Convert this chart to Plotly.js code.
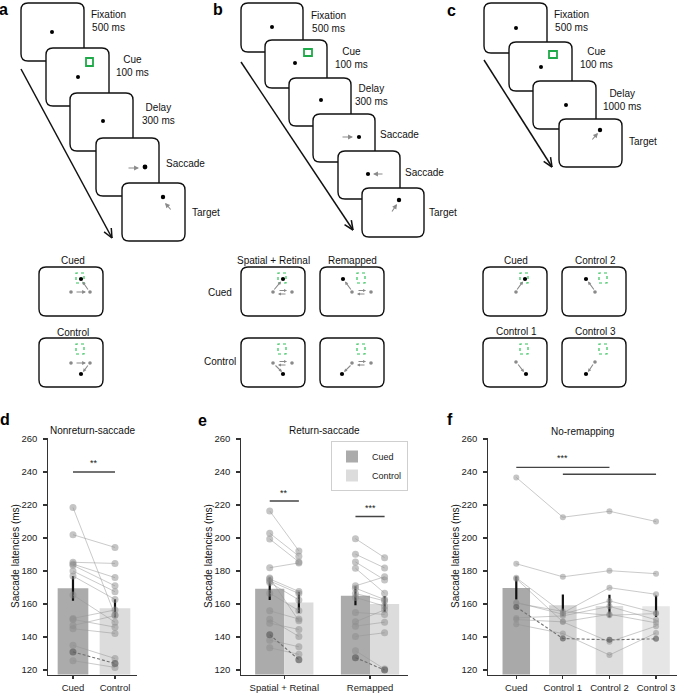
<!DOCTYPE html>
<html><head><meta charset="utf-8">
<script src="https://cdn.plot.ly/plotly-3.0.1.min.js"></script>
<style>html,body{margin:0;padding:0;background:#fff}#chart{width:685px;height:693px}</style>
</head><body><div id="chart"></div>
<script>
const W = 685, H = 693;
const FONT = 'Liberation Sans, Arial, sans-serif';

// ---------------- DATA ----------------
// d: Nonreturn-saccade
const dCategories = ['Cued', 'Control'];
const dMeans = [169.5, 157.4];
const dSem = [7.5, 5.5];
const dCued    = [218.5, 202.0, 185.3, 184.2, 183.5, 180.0, 177.0, 165.5, 151.3, 150.7, 147.0, 145.0, 135.0, 131.0, 125.7];
const dControl = [153.3, 194.3, 184.6, 176.0, 171.0, 167.5, 162.8, 149.0, 156.4, 146.0, 153.0, 142.2, 127.0, 124.0, 121.6];
const dDashedSubject = 13;
const dSigFrom = [0], dSigTo = [1], dSigY = [240], dSigText = ['**'];

// e: Return-saccade
const eCategories = ['Spatial + Retinal', 'Remapped'];
const eSeries = ['Cued', 'Control'];
const eCuedMeans = [169.2, 165.0];
const eControlMeans = [161.0, 160.0];
const eCuedSem = [6.8, 5.7];
const eControlSem = [6.5, 4.9];
const eSRCued    = [216.4, 202.9, 199.4, 182.0, 175.2, 174.0, 173.0, 166.6, 155.9, 150.8, 148.4, 141.4, 138.1, 133.5, 175.8];
const eSRControl = [192.2, 189.0, 185.5, 184.9, 167.6, 166.4, 162.5, 156.0, 150.9, 140.4, 144.6, 126.3, 134.1, 129.5, 149.8];
const eRMCued    = [199.6, 190.2, 185.5, 181.7, 171.0, 169.6, 166.4, 164.0, 154.9, 149.2, 146.6, 140.4, 131.7, 127.5];
const eRMControl = [188.1, 181.9, 174.6, 166.6, 176.5, 162.7, 161.9, 158.7, 153.7, 156.5, 149.0, 142.6, 120.6, 120.0];
const eSRDashed = 11, eRMDashed = 13;
const eSigY = [222.4, 213.0], eSigText = ['**', '***'];

// f: No-remapping
const fCategories = ['Cued', 'Control 1', 'Control 2', 'Control 3'];
const fMeans = [169.7, 159.2, 158.8, 158.6];
const fSem = [7.0, 6.5, 6.8, 6.5];
const fCued     = [236.7, 184.4, 175.9, 175.3, 161.0, 158.2, 151.6, 150.6, 147.8, 160.5];
const fControl1 = [212.6, 176.5, 154.6, 149.2, 153.8, 139.1, 152.8, 149.2, 142.1, 155.5];
const fControl2 = [216.2, 180.2, 169.9, 137.1, 161.9, 138.3, 158.6, 153.8, 129.1, 153.2];
const fControl3 = [210.0, 178.4, 165.9, 146.6, 154.6, 138.9, 150.4, 148.6, 142.5, 154.2];
const fDashedSubject = 5;
const fSigFrom = [0, 1], fSigTo = [2, 3], fSigY = [242.8, 238.6], fSigText = ['***'], fSigTextX = [1], fSigTextY = [248.5];

const yTicks = [120, 140, 160, 180, 200, 220, 240, 260];
const yTitle = 'Saccade latencies (ms)';

// ---------------- STYLE ----------------
const cuedColor = '#ababab', controlColor = '#dcdcdc';
const fBarColors = ['#a9a9a9', '#d3d3d3', '#dedede', '#e6e6e6'];
const ptColor = 'rgba(140,140,140,0.5)', lnColor = 'rgba(150,150,150,0.5)';
const dashPt = 'rgba(95,95,95,0.7)', dashLn = '#707070';
const errStyle = {type: 'data', thickness: 2.2, width: 0, color: '#111', visible: true};

const px = x => x / W;
const py = y => 1 - y / H;

const traces = [];
// bars
traces.push({type: 'bar', x: dCategories.map((c, i) => i), y: dMeans, width: 0.73,
  marker: {color: [cuedColor, controlColor], line: {width: 0}}, error_y: Object.assign({array: dSem}, errStyle),
  xaxis: 'x', yaxis: 'y', showlegend: false, hoverinfo: 'skip'});
const eOff = 0.17;
traces.push({type: 'bar', name: eSeries[0], x: eCategories.map((c, i) => i - eOff), y: eCuedMeans, width: 0.34,
  marker: {color: cuedColor, line: {width: 0}}, error_y: Object.assign({array: eCuedSem}, errStyle),
  xaxis: 'x2', yaxis: 'y2', showlegend: true, hoverinfo: 'skip'});
traces.push({type: 'bar', name: eSeries[1], x: eCategories.map((c, i) => i + eOff), y: eControlMeans, width: 0.34,
  marker: {color: controlColor, line: {width: 0}}, error_y: Object.assign({array: eControlSem}, errStyle),
  xaxis: 'x2', yaxis: 'y2', showlegend: true, hoverinfo: 'skip'});
traces.push({type: 'bar', x: fCategories.map((c, i) => i), y: fMeans, width: 0.59,
  marker: {color: fBarColors, line: {width: 0}}, error_y: Object.assign({array: fSem}, errStyle),
  xaxis: 'x3', yaxis: 'y3', showlegend: false, hoverinfo: 'skip'});

function subjects(xs, series, xa, ya, dashedIdx, msize) {
  const n = series[0].length;
  const order = [];
  for (let i = 0; i < n; i++) if (i !== dashedIdx) order.push(i);
  order.push(dashedIdx);
  order.forEach(i => {
    const dashed = i === dashedIdx;
    traces.push({type: 'scatter', mode: 'lines+markers', x: xs, y: series.map(s => s[i]),
      line: {color: dashed ? dashLn : lnColor, width: dashed ? 1.1 : 1, dash: dashed ? '3px,2px' : 'solid'},
      marker: {color: dashed ? dashPt : ptColor, size: msize, line: {width: 0}},
      xaxis: xa, yaxis: ya, showlegend: false, hoverinfo: 'skip'});
  });
}
subjects([0, 1], [dCued, dControl], 'x', 'y', dDashedSubject, 7);
subjects([0 - eOff, 0 + eOff], [eSRCued, eSRControl], 'x2', 'y2', eSRDashed, 7);
subjects([1 - eOff, 1 + eOff], [eRMCued, eRMControl], 'x2', 'y2', eRMDashed, 7);
subjects([0, 1, 2, 3], [fCued, fControl1, fControl2, fControl3], 'x3', 'y3', fDashedSubject, 6);

const annotations = [];
function sig(xa, ya, x0, x1, y) {
  traces.push({type: 'scatter', mode: 'lines', x: [x0, x1], y: [y, y], line: {color: '#444', width: 1.4},
    xaxis: xa, yaxis: ya, showlegend: false, hoverinfo: 'skip'});
}
function star(xa, ya, x, y, t) {
  annotations.push({xref: xa, yref: ya, x: x, y: y, text: t, showarrow: false,
    font: {family: FONT, size: 9, color: '#222'}, xanchor: 'center', yanchor: 'middle'});
}
dSigY.forEach((y, k) => { sig('x', 'y', dSigFrom[k], dSigTo[k], y); star('x', 'y', (dSigFrom[k] + dSigTo[k]) / 2, y + 5.5, dSigText[k]); });
eSigY.forEach((y, k) => { sig('x2', 'y2', k - eOff, k + eOff, y); star('x2', 'y2', k, y + 5, eSigText[k]); });
fSigY.forEach((y, k) => sig('x3', 'y3', fSigFrom[k], fSigTo[k], y));
fSigText.forEach((t, k) => star('x3', 'y3', fSigTextX[k], fSigTextY[k], t));

// ---------------- AXES ----------------
const yDom = [(H - 674.5) / H, (H - 438) / H];
const yRange = [117.3, 260.6];
function xAxis(domain, range, cats, anchor) {
  return {domain, range, anchor, tickvals: cats.map((c, i) => i), ticktext: cats,
    showline: true, linecolor: '#333', linewidth: 1.2, ticks: 'outside', ticklen: 3.5, tickwidth: 1.2, tickcolor: '#333',
    showgrid: false, zeroline: false, tickfont: {family: FONT, size: 9.5, color: '#222'}, fixedrange: true};
}
function yAxis(anchor) {
  return {domain: yDom, range: yRange, anchor, tickvals: yTicks, ticktext: yTicks.map(String),
    showline: true, linecolor: '#333', linewidth: 1.2, ticks: 'outside', ticklen: 3.5, tickwidth: 1.2, tickcolor: '#333',
    ticklabelstandoff: 4, showgrid: false, zeroline: false, tickfont: {family: FONT, size: 9.5, color: '#222'}, fixedrange: true};
}

// titles, y titles, letters
function txt(x, y, t, size, opts) {
  annotations.push(Object.assign({xref: 'paper', yref: 'paper', x: px(x), y: py(y), text: t, showarrow: false,
    font: {family: FONT, size: size, color: '#111'}, xanchor: 'center', yanchor: 'middle', align: 'center'}, opts || {}));
}
txt(92.5, 430, 'Nonreturn-saccade', 10);
txt(324.5, 430, 'Return-saccade', 10);
txt(582.5, 431, 'No-remapping', 10);
[15, 208, 455].forEach(x => txt(x, 556, yTitle, 10, {textangle: -90}));
[['a', 4, 9], ['b', 218, 9], ['c', 451, 10], ['d', 5, 419], ['e', 202, 420], ['f', 450, 419]].forEach(l =>
  txt(l[1], l[2], '<b>' + l[0] + '</b>', 16, {font: {family: FONT, size: 16, color: '#000'}}));

// ---------------- SCHEMATICS ----------------
const shapes = [];
function rr(x, y, w, h, r) {
  const X = v => (v / W).toFixed(5), Y = v => (1 - v / H).toFixed(5);
  return `M${X(x + r)},${Y(y)} L${X(x + w - r)},${Y(y)} Q${X(x + w)},${Y(y)} ${X(x + w)},${Y(y + r)} L${X(x + w)},${Y(y + h - r)} Q${X(x + w)},${Y(y + h)} ${X(x + w - r)},${Y(y + h)} L${X(x + r)},${Y(y + h)} Q${X(x)},${Y(y + h)} ${X(x)},${Y(y + h - r)} L${X(x)},${Y(y + r)} Q${X(x)},${Y(y)} ${X(x + r)},${Y(y)} Z`;
}
function frame(x, y, w, h) {
  shapes.push({type: 'path', xref: 'paper', yref: 'paper', path: rr(x, y, w, h, 7), fillcolor: '#fff',
    line: {color: '#111', width: 1.4}, layer: 'above'});
}
function dot(x, y, r, color) {
  shapes.push({type: 'circle', xref: 'paper', yref: 'paper', x0: px(x - r), x1: px(x + r), y0: py(y + r), y1: py(y - r),
    fillcolor: color || '#000', line: {width: 0}, layer: 'above'});
}
function sq(x0, y0, x1, y1, dotted) {
  shapes.push({type: 'rect', xref: 'paper', yref: 'paper', x0: px(x0), x1: px(x1), y0: py(y1), y1: py(y0),
    fillcolor: 'rgba(0,0,0,0)', line: {color: dotted ? '#33c45a' : '#1eaa48', width: dotted ? 1.2 : 1.8, dash: dotted ? 'dot' : 'solid'}, layer: 'above'});
}
function line(x0, y0, x1, y1, color, width) {
  shapes.push({type: 'line', xref: 'paper', yref: 'paper', x0: px(x0), y0: py(y0), x1: px(x1), y1: py(y1),
    line: {color: color, width: width}, layer: 'above'});
}
function garrow(x0, y0, x1, y1, size) {
  annotations.push({xref: 'paper', yref: 'paper', x: px(x1), y: py(y1), ax: x0 - x1, ay: y0 - y1, text: '', showarrow: true,
    arrowhead: 2, arrowsize: size || 0.9, arrowwidth: 1.1, arrowcolor: '#8a8a8a', standoff: 0});
}
function bigArrow(x0, y0, x1, y1) {
  line(x0, y0, x1, y1, '#111', 1.5);
  const a = Math.atan2(y1 - y0, x1 - x0), L = 10, s = 0.42;
  line(x1, y1, x1 - L * Math.cos(a - s), y1 - L * Math.sin(a - s), '#111', 1.5);
  line(x1, y1, x1 - L * Math.cos(a + s), y1 - L * Math.sin(a + s), '#111', 1.5);
}

// panel a (top)
bigArrow(21, 69, 112, 238);
frame(21, 3, 63, 58); dot(52, 32, 2);
frame(46, 48, 63, 58); dot(78, 77, 2); sq(86, 58, 93, 66);
frame(70, 93, 63, 58); dot(103, 121, 2);
frame(96, 138, 63, 58); garrow(127, 168, 139, 168); dot(145, 167, 2.4);
frame(122, 183, 63, 58); dot(163, 197, 2.2); garrow(172, 211, 165, 203);
txt(108, 21, 'Fixation<br>500 ms', 10);
txt(132.5, 66, 'Cue<br>100 ms', 10);
txt(158, 113.5, 'Delay<br>300 ms', 10);
txt(185, 163, 'Saccade', 10);
txt(206.5, 213, 'Target', 10);

// panel b (top)
bigArrow(241, 62, 353, 230);
frame(241, 3, 62, 49); dot(272, 27, 2);
frame(265, 40, 62, 48); dot(295, 63, 2); sq(304, 49, 312, 56);
frame(289, 78, 62, 48); dot(321, 100, 2);
frame(313, 114, 62, 48); garrow(341, 137, 353, 137); dot(359, 137, 2.1);
frame(338, 151, 62, 48); dot(368, 174, 2.1); garrow(384, 174, 373, 174);
frame(362, 188, 62, 49); dot(399, 200, 2.2); garrow(391, 213, 397, 204);
txt(328.5, 22.5, 'Fixation<br>500 ms', 10);
txt(351.5, 58, 'Cue<br>100 ms', 10);
txt(371, 95, 'Delay<br>300 ms', 10);
txt(399, 134, 'Saccade', 10);
txt(424.5, 172, 'Saccade', 10);
txt(443, 213, 'Target', 10);

// panel c (top)
bigArrow(484, 60, 552, 167);
frame(484, 3, 63, 50); dot(516, 28, 2);
frame(509, 42, 63, 49); dot(541, 67, 2); sq(549, 51, 557, 58);
frame(533, 81, 63, 48); dot(566, 105, 2);
frame(559, 119, 63, 48); dot(600, 130, 2.2); garrow(591, 141, 598, 133);
txt(571, 21, 'Fixation<br>500 ms', 10);
txt(596, 58.5, 'Cue<br>100 ms', 10);
txt(621.5, 99.5, 'Delay<br>1000 ms', 10);
txt(643, 141, 'Target', 10);

// bottom schematic frames
const G = '#8a8a8a';
function cond(L, T, opt) {
  frame(L, T, 64, 49);
  sq(L + 37, T + 6, L + 45, T + 16, true);
  opt.grays.forEach(g => dot(L + g[0], T + g[1], 1.8, G));
  if (opt.right) garrow(L + 36, T + 25, L + 47, T + 25, 0.7);
  if (opt.swap) { garrow(L + 37, T + 23.5, L + 46, T + 23.5, 0.55); garrow(L + 46, T + 27, L + 37, T + 27, 0.55); }
  garrow(opt.arrow[0] + L, opt.arrow[1] + T, opt.arrow[2] + L, opt.arrow[3] + T, 0.6);
  dot(L + opt.black[0], T + opt.black[1], 2.1, '#000');
}
// a
txt(73, 260, 'Cued', 10); txt(73, 332, 'Control', 10);
cond(39, 267, {grays: [[32, 25], [51, 25]], right: true, arrow: [50, 24, 43.5, 14.5], black: [42, 12]});
cond(39, 338, {grays: [[32, 25], [51, 25]], right: true, arrow: [50, 26, 44, 34], black: [42, 36]});
// b
txt(273, 260, 'Spatial + Retinal', 10); txt(352, 260, 'Remapped', 10);
txt(220, 293, 'Cued', 10); txt(220, 361, 'Control', 10);
cond(241, 267, {grays: [[32, 25], [51, 25]], swap: true, arrow: [32, 24, 40, 14.5], black: [42, 12]});
cond(320, 267, {grays: [[32, 25], [51, 25]], swap: true, arrow: [32, 24, 25, 14.5], black: [23, 12]});
cond(241, 338, {grays: [[32, 25], [51, 25]], swap: true, arrow: [33, 26, 41, 34], black: [42, 36]});
cond(320, 338, {grays: [[32, 25], [51, 25]], swap: true, arrow: [32, 26, 24, 34], black: [22, 36]});
// c
txt(516, 260, 'Cued', 10); txt(595, 260, 'Control 2', 10);
txt(516, 331, 'Control 1', 10); txt(595, 331, 'Control 3', 10);
cond(483, 267, {grays: [[33, 25]], arrow: [33, 24, 40, 14.5], black: [42, 12]});
cond(562, 267, {grays: [[33, 25]], arrow: [33, 24, 26, 14.5], black: [24, 12]});
cond(483, 338, {grays: [[33, 24]], arrow: [34, 25, 41, 34], black: [43, 36]});
cond(562, 338, {grays: [[33, 24]], arrow: [32, 25, 26, 34], black: [24, 36]});

const layout = {
  width: W, height: H, margin: {l: 0, r: 0, t: 0, b: 0},
  paper_bgcolor: '#fff', plot_bgcolor: 'rgba(0,0,0,0)',
  font: {family: FONT, size: 10, color: '#222'},
  barmode: 'overlay',
  xaxis: xAxis([48 / W, 137 / W], [-0.595, 1.524], dCategories, 'y'),
  yaxis: yAxis('x'),
  xaxis2: xAxis([241 / W, 408 / W], [-0.505, 1.443], eCategories, 'y2'),
  yaxis2: yAxis('x2'),
  xaxis3: xAxis([488 / W, 677 / W], [-0.607, 3.45], fCategories, 'y3'),
  yaxis3: yAxis('x3'),
  showlegend: true,
  legend: {x: 408 / W, xanchor: 'right', y: py(441), yanchor: 'top', bordercolor: '#cfcfcf', borderwidth: 1,
    bgcolor: 'rgba(255,255,255,0.85)', font: {family: FONT, size: 9, color: '#222'}, itemwidth: 30, tracegroupgap: 0},
  shapes: shapes,
  annotations: annotations
};
Plotly.newPlot('chart', traces, layout, {displayModeBar: false, staticPlot: true});
</script></body></html>
